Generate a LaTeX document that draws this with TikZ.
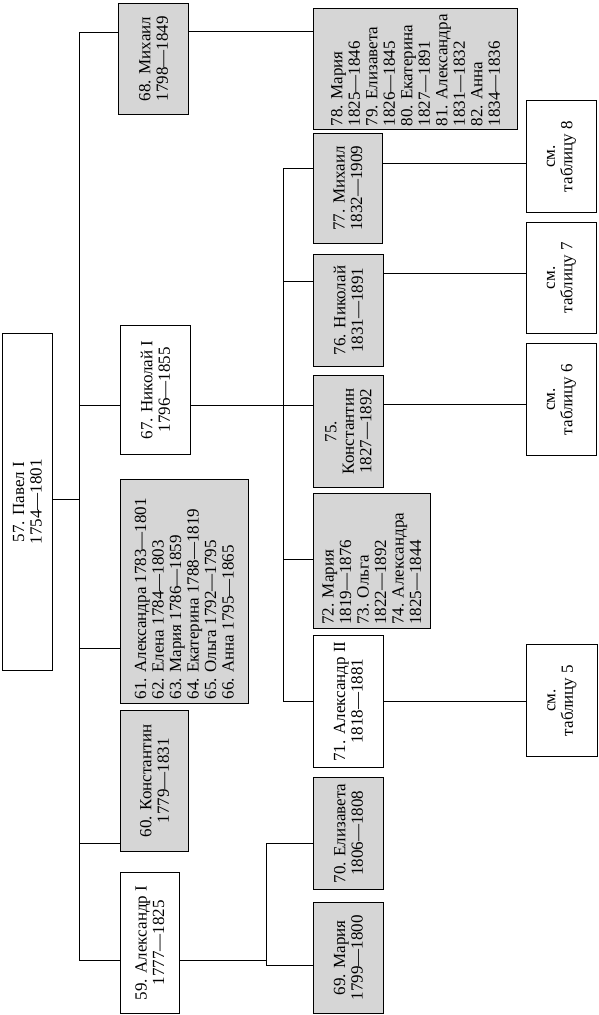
\documentclass[tikz,border=0pt]{standalone}
\usepackage{fontspec}
\setmainfont{Liberation Serif}
\usepackage{graphicx}
\definecolor{boxgrey}{RGB}{214, 214, 214}
\usepackage{tikz}
\usetikzlibrary{positioning}
\newcommand{\vname}[2]{\rotatebox{90}{\parbox{#1}{\centering #2}}}
\newcommand{\vlist}[2]{\rotatebox{90}{\parbox{#1}{\raggedright #2}}}
\begin{document}
\begin{tikzpicture}[x=1pt, y=-1pt,
    person/.style={draw, line width=0.9pt, inner sep=0pt, anchor=north west, fill=white, font=\fontsize{17}{17.5}\selectfont},
    kin/.style={person, fill=boxgrey},
    link/.style={line width=0.7pt}]
    \useasboundingbox (0,0) rectangle (598,1015);

    % Generation I
    \node [person, minimum width=50pt, minimum height=337pt] (pavel) at (2,333) {\vname{300pt}{57. Павел I\\1754—1801}};

    % Generation II
    \node [kin, minimum width=70pt, minimum height=111pt] (mikhailA) at (118,3) {\vname{104pt}{68. Михаил\\1798—1849}};
    \node [person, minimum width=70pt, minimum height=129pt] (nikolaiA) at (120,325) {\vname{120pt}{67. Николай I\\1796—1855}};
    \node [kin, minimum width=128pt, minimum height=224pt] (sistersA) at (120,479) {\vlist{216pt}{61. Александра 1783—1801\\62. Елена 1784—1803\\63. Мария 1786—1859\\64. Екатерина 1788—1819\\65. Ольга 1792—1795\\66. Анна 1795—1865}};
    \node [kin, minimum width=68pt, minimum height=141pt] (konstA) at (120,710) {\vname{134pt}{60. Константин\\1779—1831}};
    \node [person, minimum width=59pt, minimum height=141pt] (alexA) at (120,872) {\vname{134pt}{59. Александр I\\1777—1825}};

    % Generation III
    \node [kin, minimum width=204pt, minimum height=121pt] (sistersB) at (313,8) {\vlist{115pt}{78. Мария\\1825—1846\\79. Елизавета\\1826—1845\\80. Екатерина\\1827—1891\\81. Александра\\1831—1832\\82. Анна\\1834—1836}};
    \node [kin, minimum width=69pt, minimum height=110pt] (mikhailB) at (313,133) {\vname{104pt}{77. Михаил\\1832—1909}};
    \node [kin, minimum width=70pt, minimum height=112pt] (nikolaiB) at (313,254) {\vname{104pt}{76. Николай\\1831—1891}};
    \node [kin, minimum width=70pt, minimum height=112pt] (konstB) at (313,375) {\vname{104pt}{75.\\Константин\\1827—1892}};
    \node [kin, minimum width=117pt, minimum height=135pt] (sistersC) at (313,493) {\vlist{128pt}{72. Мария\\1819—1876\\73. Ольга\\1822—1892\\74. Александра\\1825—1844}};
    \node [person, minimum width=70pt, minimum height=132pt] (alexB) at (313,635) {\vname{126pt}{71. Александр II\\1818—1881}};
    \node [kin, minimum width=70pt, minimum height=112pt] (elizB) at (313,777) {\vname{106pt}{70. Елизавета\\1806—1808}};
    \node [kin, minimum width=70pt, minimum height=111pt] (mariaB) at (313,902) {\vname{104pt}{69. Мария\\1799—1800}};

    % Cross references
    \node [person, minimum width=70pt, minimum height=112pt] (tab8) at (526,100) {\vname{104pt}{см.\\таблицу 8}};
    \node [person, minimum width=70pt, minimum height=111pt] (tab7) at (526,222) {\vname{104pt}{см.\\таблицу 7}};
    \node [person, minimum width=70pt, minimum height=112pt] (tab6) at (526,343) {\vname{104pt}{см.\\таблицу 6}};
    \node [person, minimum width=71pt, minimum height=112pt] (tab5) at (526,644) {\vname{104pt}{см.\\таблицу 5}};

    % Junctions
    \coordinate (jA0) at (79,499);
    \coordinate (jA1) at (79,32);
    \coordinate (jA2) at (79,405);
    \coordinate (jA3) at (79,648);
    \coordinate (jA4) at (79,843);
    \coordinate (jA5) at (79,960);
    \coordinate (jB0) at (283,405);
    \coordinate (jB1) at (283,168);
    \coordinate (jB2) at (283,281);
    \coordinate (jB4) at (283,559);
    \coordinate (jB5) at (283,701);
    \coordinate (jC0) at (266,960);
    \coordinate (jC1) at (266,843);
    \coordinate (jC2) at (266,965);
    \coordinate (jM) at (250,31);
    \coordinate (jT8) at (450,163);
    \coordinate (jT7) at (450,273);
    \coordinate (jT6) at (450,404);
    \coordinate (jT5) at (450,701);

    % Children of Pavel I
    \draw [link] (jA0 -| pavel.east) -- (jA0);
    \draw [link] (jA1) -- (jA5);
    \foreach \j/\n in {jA1/mikhailA, jA2/nikolaiA, jA3/sistersA, jA4/konstA, jA5/alexA}
        \draw [link] (\j) -- (\j -| \n.west);

    % Children of Nikolai I
    \draw [link] (jB0 -| nikolaiA.east) -- (jB0 -| konstB.west);
    \draw [link] (jB1) -- (jB5);
    \foreach \j/\n in {jB1/mikhailB, jB2/nikolaiB, jB4/sistersC, jB5/alexB}
        \draw [link] (\j) -- (\j -| \n.west);

    % Children of Aleksandr I
    \draw [link] (jC0 -| alexA.east) -- (jC0);
    \draw [link] (jC1) -- (jC2);
    \draw [link] (jC1) -- (jC1 -| elizB.west);
    \draw [link] (jC2) -- (jC2 -| mariaB.west);

    % Children of Mikhail and references
    \draw [link] (jM -| mikhailA.east) -- (jM -| sistersB.west);
    \draw [link] (jT8 -| mikhailB.east) -- (jT8 -| tab8.west);
    \draw [link] (jT7 -| nikolaiB.east) -- (jT7 -| tab7.west);
    \draw [link] (jT6 -| konstB.east) -- (jT6 -| tab6.west);
    \draw [link] (jT5 -| alexB.east) -- (jT5 -| tab5.west);
\end{tikzpicture}
\end{document}
